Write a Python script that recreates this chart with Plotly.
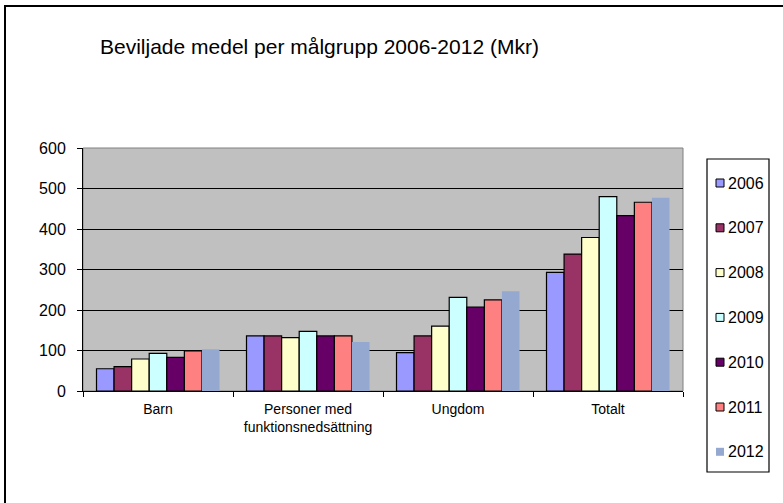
import plotly.graph_objects as go

categories = ["Barn", "Personer med<br>funktionsnedsättning", "Ungdom", "Totalt"]
years = ["2006", "2007", "2008", "2009", "2010", "2011", "2012"]
v2006 = [55, 136, 95, 293]
v2007 = [60, 136, 136, 338]
v2008 = [79, 132, 160, 379]
v2009 = [93, 147, 231, 480]
v2010 = [83, 136, 207, 433]
v2011 = [99, 136, 225, 466]
v2012 = [103, 121, 246, 477]
series = [v2006, v2007, v2008, v2009, v2010, v2011, v2012]
colors = ["#9999FF", "#993366", "#FFFFCC", "#CCFFFF", "#660066", "#FF8080", "#95A9D0"]
outlined = [True, True, True, True, True, True, False]
y_ticks = [0, 100, 200, 300, 400, 500, 600]

FONT = "Arial, Liberation Sans, sans-serif"

fig = go.Figure()
for yr, vals, col, ol in zip(years, series, colors, outlined):
    fig.add_trace(go.Bar(
        name=yr, x=categories, y=vals,
        marker=dict(color=col, line=dict(color="#000000" if ol else col, width=1.2 if ol else 0)),
        showlegend=False,
    ))

W, H = 783, 503
L, R, T, B = 83, 100, 148, 112
pw, ph = W - L - R, H - T - B

def px_x(p):
    return (p - L) / pw

def px_y(p):
    return (H - B - p) / ph

fig.update_layout(
    width=W, height=H,
    margin=dict(l=L, r=R, t=T, b=B, autoexpand=False),
    paper_bgcolor="white",
    plot_bgcolor="#C0C0C0",
    font=dict(family=FONT, color="black", size=15),
    barmode="group", bargap=0.18, bargroupgap=0,
    showlegend=False,
    title=dict(text="Beviljade medel per målgrupp 2006-2012 (Mkr)",
               font=dict(family=FONT, size=21, color="black"),
               xref="container", yref="container",
               x=100 / W, xanchor="left", y=1 - 47 / H, yanchor="middle"),
    xaxis=dict(showline=True, linecolor="black", linewidth=1, ticks="outside",
               tickson="boundaries", ticklen=5, tickcolor="black",
               tickfont=dict(size=14), showgrid=False, mirror=False,
               ticklabelstandoff=5),
    yaxis=dict(range=[0, 600], tickvals=y_ticks, showline=True, linecolor="black",
               linewidth=1, ticks="outside", ticklen=5, tickcolor="black",
               gridcolor="black", gridwidth=1, zeroline=False, tickfont=dict(size=16),
               ticklabelstandoff=8),
)

# plot area border (gray)
fig.add_shape(type="rect", xref="paper", yref="paper", x0=0, x1=1, y0=0, y1=1,
              line=dict(color="#808080", width=1), layer="below")
# outer chart border
fig.add_shape(type="rect", xref="paper", yref="paper",
              x0=px_x(5), x1=px_x(800), y0=px_y(520), y1=px_y(6),
              line=dict(color="black", width=2))

# legend box
fig.add_shape(type="rect", xref="paper", yref="paper",
              x0=px_x(707), x1=px_x(769), y0=px_y(472), y1=px_y(159),
              line=dict(color="black", width=1.2), fillcolor="white")
for i, (yr, col, ol) in enumerate(zip(years, colors, outlined)):
    cy = 183 + i * 44.8
    fig.add_shape(type="rect", xref="paper", yref="paper",
                  x0=px_x(716), x1=px_x(724), y0=px_y(cy + 4), y1=px_y(cy - 4),
                  fillcolor=col, line=dict(color="black" if ol else col, width=1 if ol else 0))
    fig.add_annotation(text=yr, xref="paper", yref="paper", x=px_x(726), y=px_y(cy),
                       xanchor="left", yanchor="middle", showarrow=False,
                       font=dict(family=FONT, size=16, color="black"))

fig.write_html("out.html", config={"displayModeBar": False},
               post_script="document.body.style.margin='0';")
